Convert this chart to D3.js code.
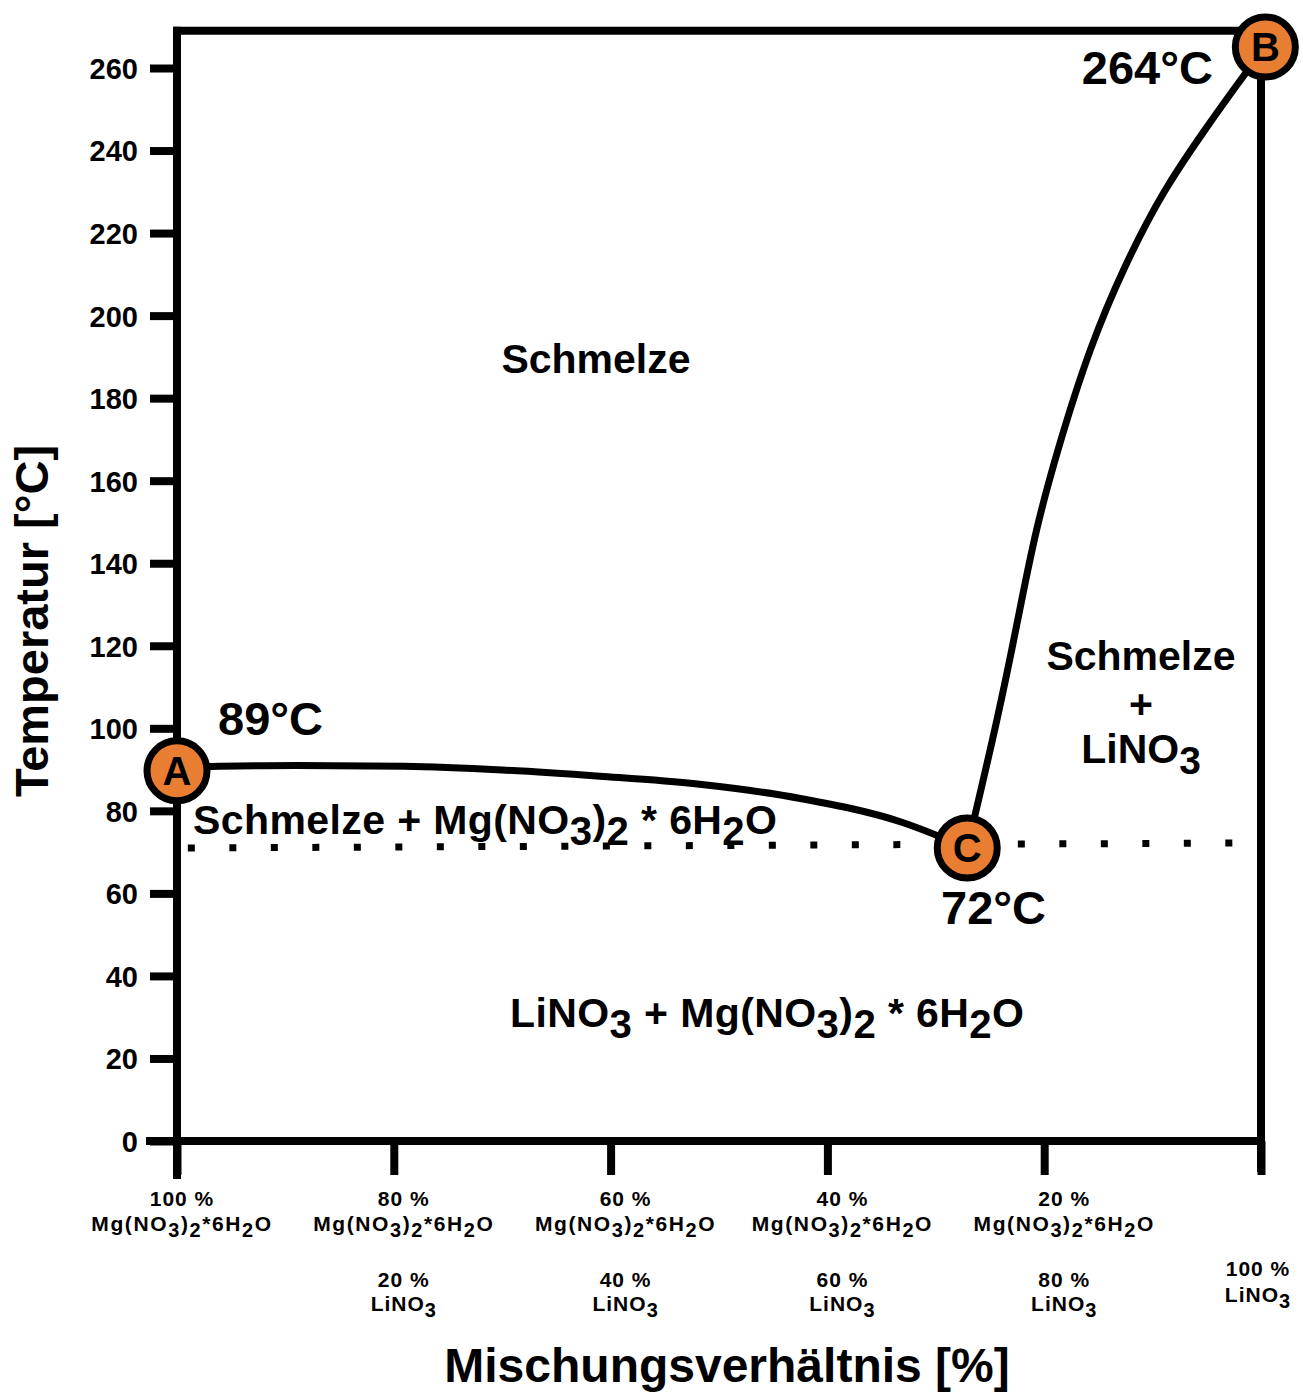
<!DOCTYPE html>
<html>
<head>
<meta charset="utf-8">
<script src="https://cdn.jsdelivr.net/npm/d3@7"></script>
<style>
  html, body { margin: 0; padding: 0; background: #fff; }
  svg { display: block; }
  text { font-family: "Liberation Sans", Arial, Helvetica, sans-serif; fill: #000; }
</style>
</head>
<body>
<script>
// ---------- data ----------
const xTicks = [0, 20, 40, 60, 80, 100];                 // % LiNO3
const mgTickLabels = ["100 %", "80 %", "60 %", "40 %", "20 %", null];
const liTickLabels = [null, "20 %", "40 %", "60 %", "80 %", "100 %"];
const yTicks = [0, 20, 40, 60, 80, 100, 120, 140, 160, 180, 200, 220, 240, 260];

// liquidus branch A -> C  ([% LiNO3, °C])
const liquidusAC = [[0, 90.6], [11, 91.0], [21, 90.8], [30, 89.9], [39, 88.4], [48, 86.5],
                    [57.5, 83.0], [66.8, 77.3], [72.9, 71.0]];
// liquidus branch C -> B
const liquidusCB = [[72.9, 71.0], [75.9, 104.4], [77.8, 129.4], [79.2, 148.0], [81.3, 168.2],
                    [84.2, 192.4], [87.5, 212.7], [91.0, 230.4], [94.8, 245.0], [98.1, 257.1],
                    [100.4, 265.1]];
// eutectic (dotted) line
const eutectic = [[1, 71.0], [97.4, 72.2]];

const pointIds = ["A", "C", "B"];
const pointX = [0, 72.9, 100.4];
const pointT = [89.7, 71.0, 265.1];
const pointLabels = ["89°C", "72°C", "264°C"];

// ---------- layout ----------
const W = 1303, H = 1392;
const FONT = '"Liberation Sans", Arial, Helvetica, sans-serif';
const ORANGE = "#E97E32";

const x = d3.scaleLinear().domain([0, 100]).range([177, 1261]);
const y = d3.scaleLinear().domain([0, 260]).range([1141, 68]);

const svg = d3.select("body").append("svg")
  .attr("width", W).attr("height", H).attr("viewBox", `0 0 ${W} ${H}`);

// helper: write chemical formula with "_c" meaning subscript char
function chem(textSel, str, fs, subScale) {
  subScale = subScale || 0.88;
  const parts = [];
  for (let i = 0; i < str.length; i++) {
    if (str[i] === "_") { parts.push({ t: str[i + 1], sub: true }); i++; }
    else {
      if (parts.length && !parts[parts.length - 1].sub) parts[parts.length - 1].t += str[i];
      else parts.push({ t: str[i], sub: false });
    }
  }
  const shift = Math.round(fs * 0.28);
  let down = false;
  parts.forEach(p => {
    const ts = textSel.append("tspan").text(p.t);
    if (p.sub) {
      ts.attr("font-size", fs * subScale);
      if (!down) { ts.attr("dy", shift); down = true; }
    } else if (down) {
      ts.attr("dy", -shift); down = false;
    }
  });
  return textSel;
}

// ---------- frame / axes ----------
const SW = 8;
const frame = svg.append("g").attr("stroke", "#000").attr("stroke-width", SW).attr("fill", "none")
  .attr("stroke-linecap", "square");
frame.append("line").attr("x1", x(0)).attr("x2", x(0)).attr("y1", y(269)).attr("y2", y(0) + 34);
frame.append("line").attr("x1", x(0)).attr("x2", x(100)).attr("y1", y(269)).attr("y2", y(269));
frame.append("line").attr("x1", 150).attr("x2", x(100)).attr("y1", y(0)).attr("y2", y(0));
frame.append("line").attr("x1", x(100)).attr("x2", x(100)).attr("y1", y(265)).attr("y2", y(0) + 27);

// y axis ticks
const yAxis = d3.axisLeft(y).tickValues(yTicks).tickSize(27).tickPadding(12).tickFormat(d3.format("d"));
const gy = svg.append("g").attr("transform", `translate(${x(0)},0)`).call(yAxis);
gy.select(".domain").remove();
gy.selectAll(".tick line").attr("stroke", "#000").attr("stroke-width", SW);
gy.selectAll(".tick text").attr("font-family", FONT).attr("font-weight", "bold")
  .attr("font-size", 29).attr("fill", "#000").attr("dy", "0.36em");

// x axis ticks
const xAxis = d3.axisBottom(x).tickValues(xTicks).tickSize(34).tickFormat("");
const gx = svg.append("g").attr("transform", `translate(0,${y(0)})`).call(xAxis);
gx.select(".domain").remove();
gx.selectAll(".tick line").attr("stroke", "#000").attr("stroke-width", SW);

// x tick labels
const tickFs = 21;
const labelDx = [5, 10, 15, 15, 20, -3];
xTicks.forEach((v, i) => {
  const cx = x(v) + labelDx[i];
  if (mgTickLabels[i]) {
    svg.append("text").attr("x", cx).attr("y", 1206).attr("text-anchor", "middle")
      .attr("font-size", tickFs).attr("font-weight", "bold").attr("letter-spacing", 1)
      .text(mgTickLabels[i]);
    chem(svg.append("text").attr("x", cx).attr("y", 1231).attr("text-anchor", "middle")
      .attr("font-size", tickFs).attr("font-weight", "bold").attr("letter-spacing", 1.6),
      "Mg(NO_3)_2*6H_2O", tickFs, 0.95);
  }
  if (liTickLabels[i]) {
    const last = i === 5;
    svg.append("text").attr("x", cx).attr("y", last ? 1276 : 1287).attr("text-anchor", "middle")
      .attr("font-size", tickFs).attr("font-weight", "bold").attr("letter-spacing", 1)
      .text(liTickLabels[i]);
    chem(svg.append("text").attr("x", cx).attr("y", last ? 1302 : 1311).attr("text-anchor", "middle")
      .attr("font-size", tickFs).attr("font-weight", "bold").attr("letter-spacing", 1),
      "LiNO_3", tickFs, 0.95);
  }
});

// axis titles
svg.append("text").attr("x", 727).attr("y", 1382).attr("text-anchor", "middle")
  .attr("font-size", 48).attr("font-weight", "bold").text("Mischungsverhältnis [%]");
svg.append("text").attr("transform", "translate(48,621) rotate(-90)").attr("text-anchor", "middle")
  .attr("font-size", 47).attr("font-weight", "bold").text("Temperatur [°C]");

// ---------- dotted eutectic line ----------
svg.append("path")
  .attr("d", d3.line().x(d => x(d[0])).y(d => y(d[1]))(eutectic))
  .attr("stroke", "#000").attr("stroke-width", 7).attr("fill", "none")
  .attr("stroke-dasharray", "7 34.5");

// ---------- liquidus curves ----------
const lineAC = d3.line().x(d => x(d[0])).y(d => y(d[1])).curve(d3.curveMonotoneX);
const lineCB = d3.line().x(d => x(d[0])).y(d => y(d[1])).curve(d3.curveBasis);
svg.append("path").attr("d", lineAC(liquidusAC))
  .attr("stroke", "#000").attr("stroke-width", 7).attr("fill", "none")
  .attr("stroke-linejoin", "round").attr("stroke-linecap", "round");
svg.append("path").attr("d", lineCB(liquidusCB))
  .attr("stroke", "#000").attr("stroke-width", 7).attr("fill", "none")
  .attr("stroke-linejoin", "round").attr("stroke-linecap", "round");

// ---------- region labels ----------
const bigFs = 41;
svg.append("text").attr("x", 596).attr("y", 373).attr("text-anchor", "middle")
  .attr("font-size", bigFs).attr("font-weight", "bold").text("Schmelze");
svg.append("text").attr("x", 1141).attr("y", 670).attr("text-anchor", "middle")
  .attr("font-size", bigFs).attr("font-weight", "bold").text("Schmelze");
svg.append("text").attr("x", 1141).attr("y", 718).attr("text-anchor", "middle")
  .attr("font-size", bigFs).attr("font-weight", "bold").text("+");
chem(svg.append("text").attr("x", 1141).attr("y", 763).attr("text-anchor", "middle")
  .attr("font-size", bigFs).attr("font-weight", "bold"), "LiNO_3", bigFs, 0.95);
chem(svg.append("text").attr("x", 193).attr("y", 834)
  .attr("font-size", 41).attr("font-weight", "bold").attr("letter-spacing", 0.4),
  "Schmelze + Mg(NO_3)_2 * 6H_2O", 41, 0.98);
chem(svg.append("text").attr("x", 510).attr("y", 1027)
  .attr("font-size", 41).attr("font-weight", "bold").attr("letter-spacing", 0.4),
  "LiNO_3 + Mg(NO_3)_2 * 6H_2O", 41, 0.98);

// ---------- temperature labels ----------
const tempPos = [
  { x: 218, y: 735, anchor: "start" },
  { x: 941, y: 924, anchor: "start" },
  { x: 1213, y: 84, anchor: "end" }
];
pointLabels.forEach((lab, i) => {
  svg.append("text").attr("x", tempPos[i].x).attr("y", tempPos[i].y)
    .attr("text-anchor", tempPos[i].anchor)
    .attr("font-size", 47).attr("font-weight", "bold").text(lab);
});

// ---------- point markers ----------
const mk = svg.append("g");
pointIds.forEach((id, i) => {
  const cx = x(pointX[i]), cy = y(pointT[i]);
  mk.append("circle").attr("cx", cx).attr("cy", cy).attr("r", 30)
    .attr("fill", ORANGE).attr("stroke", "#000").attr("stroke-width", 7);
  mk.append("text").attr("x", cx).attr("y", cy + 0.36 * 40).attr("text-anchor", "middle")
    .attr("font-size", 40).attr("font-weight", "bold").text(id);
});
</script>
</body>
</html>
